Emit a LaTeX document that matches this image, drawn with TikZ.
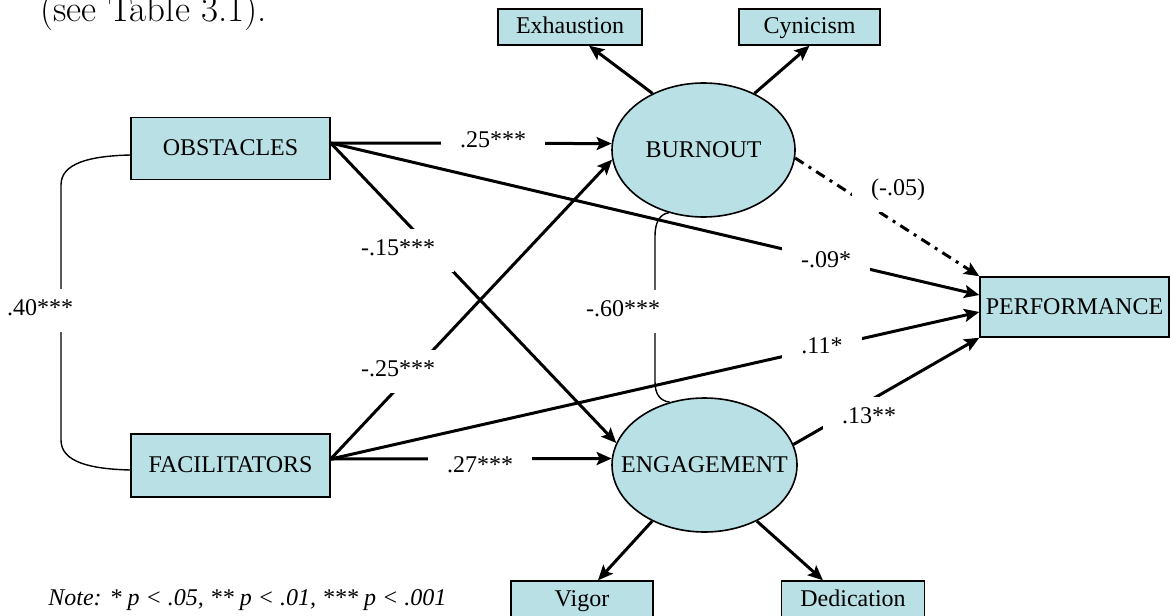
\documentclass[tikz,border=0pt]{standalone}
\usepackage{fontspec}
\newfontfamily\tnr{Liberation Serif}
\usetikzlibrary{arrows.meta,shapes.geometric}
\definecolor{boxfill}{RGB}{185,224,228}
\tikzset{
  every node/.style={font=\tnr\fontsize{12}{14}\selectfont},
  obsbox/.style={draw=black, line width=0.7pt, fill=boxfill, rectangle, inner sep=0pt,
    text height=8pt, text depth=1pt},
  latent/.style={draw=black, line width=0.8pt, fill=boxfill, ellipse, inner sep=0pt},
  effect/.style={line width=1.5pt, -{Stealth[length=7.5pt,width=6.5pt,inset=1.5pt]}},
  dashdot/.style={effect, dash pattern=on 5pt off 3pt on 1.5pt off 3pt},
  corr/.style={line width=0.7pt},
  lab/.style={fill=white, inner xsep=9.5pt, inner ysep=5.5pt, text height=8pt, text depth=2.5pt},
}
\begin{document}
\begin{tikzpicture}[x=0.5pt,y=-0.5pt]
\useasboundingbox (0,0) rectangle (1171,615);
\clip (0,0) rectangle (1171,615);

% running text above the figure
\node[anchor=base west, inner sep=0pt, font=\fontsize{18.5}{22}\selectfont] (cap) at (40,22) {(see Table 3.1).};

% observed variables
\node[obsbox, minimum width=99.5pt, minimum height=31pt] (obst) at (230.5,148.5) {OBSTACLES};
\node[obsbox, minimum width=99.5pt, minimum height=31.5pt] (fac) at (230.5,465.5) {FACILITATORS};
\node[obsbox, minimum width=72pt, minimum height=18pt] (exh) at (570,27) {Exhaustion};
\node[obsbox, minimum width=70.5pt, minimum height=18pt] (cyn) at (809.5,27) {Cynicism};
\node[obsbox, minimum width=71pt, minimum height=18pt] (vig) at (582,599) {Vigor};
\node[obsbox, minimum width=71.5pt, minimum height=18pt] (ded) at (853,599) {Dedication};
\node[obsbox, minimum width=94.5pt, minimum height=30pt] (perf) at (1074.5,307) {PERFORMANCE};

% latent variables (the name sits on top of the ellipse, so the ellipse keeps its own size)
\node[latent, minimum width=91.5pt, minimum height=67pt,
  label={[text height=8pt, text depth=1pt]center:BURNOUT}] (burn) at (703.5,150) {};
\node[latent, minimum width=92.5pt, minimum height=67pt,
  label={[text height=8pt, text depth=1pt]center:ENGAGEMENT}] (eng) at (704.5,465) {};

% measurement paths
\draw[effect] (burn.132) -- ([xshift=9.5pt]exh.south);
\draw[effect] (burn.48.5) -- (cyn.south);
\draw[effect] (eng.227) -- ([xshift=8pt]vig.north);
\draw[effect] (eng.-47) -- ([xshift=-15pt]ded.north);

% structural paths
\draw[effect] ([yshift=2.75pt]obst.east) -- (burn.176);
\draw[effect] ([yshift=2.75pt]obst.east) -- (eng.166);
\draw[effect] ([yshift=2.75pt]obst.east) -- ([yshift=6pt]perf.west);
\draw[effect] ([yshift=3.25pt]fac.east) -- (burn.186);
\draw[effect] ([yshift=3.25pt]fac.east) -- (eng.176);
\draw[effect] ([yshift=3.25pt]fac.east) -- ([yshift=-2.5pt]perf.west);
\draw[effect] (eng.13) -- (perf.south west);
\draw[dashdot] (burn.-5) -- (perf.north west);

% correlations
\draw[corr] ([yshift=-3.25pt]obst.west) .. controls (90,156) and (61,163) .. (61,185)
  -- (61,440) .. controls (61,462) and (90,469) .. ([yshift=-2.25pt]fac.west);
\draw[corr] (burn.241) .. controls (660,214) and (655,222) .. (655,236)
  -- (655,382) .. controls (655,394) and (660,401) .. (eng.119);

% coefficients
\node[lab] (l25) at (493,142) {.25***};
\node[lab] (l15) at (398,250) {-.15***};
\node[lab] (lm25) at (398,371) {-.25***};
\node[lab] (l27) at (480,467) {.27***};
\node[lab] (l60) at (623,311) {-.60***};
\node[lab] (l05) at (898,190) {(-.05)};
\node[lab] (l09) at (826,262) {-.09*};
\node[lab] (l11) at (822,348) {.11*};
\node[lab] (l13) at (869,418) {.13**};
\node[lab] (l40) at (40,310) {.40***};

% significance note
\node[anchor=base west, inner sep=0pt, font=\tnr\itshape\fontsize{12}{14}\selectfont] (note) at (48,605)
  {Note: * p {\textless} .05, ** p {\textless} .01, *** p {\textless} .001};
\end{tikzpicture}
\end{document}
